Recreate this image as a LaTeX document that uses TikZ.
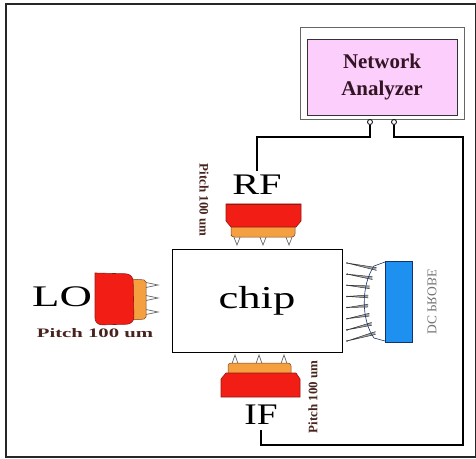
\documentclass[tikz,border=0pt]{standalone}
\usepackage{fontspec}
\setmainfont{Liberation Serif}
\usepackage{graphicx}
\definecolor{napink}{RGB}{252,206,252}
\definecolor{probered}{RGB}{242,30,22}
\definecolor{probedark}{RGB}{150,22,16}
\definecolor{probeorange}{RGB}{244,160,64}
\definecolor{orangeedge}{RGB}{120,70,30}
\definecolor{pitchbrown}{RGB}{72,36,30}
\definecolor{dcblue}{RGB}{30,144,240}
\definecolor{dcedge}{RGB}{20,50,110}
\begin{document}
\begin{tikzpicture}[x=1bp,y=-1bp,
  frame/.style={line width=2bp, black!85},
  wire/.style={line width=1.4bp, black},
  port/.style={circle, draw, fill=white, inner sep=0pt, minimum size=5bp, line width=0.8bp},
  biglabel/.style={font=\fontsize{30}{30}\selectfont, inner sep=0pt},
  pitchtext/.style={font=\fontsize{13}{13}\selectfont\bfseries, text=pitchbrown, inner sep=0pt},
  redbody/.style={fill=probered, draw=probedark, line width=0.6bp},
  orangebody/.style={fill=probeorange, draw=orangeedge, line width=0.5bp},
  probetip/.style={draw=black!60, fill=white, line width=0.7bp},
  needle/.style={draw=black!80, fill=black!35, line width=0.5bp}]
\useasboundingbox (0,0) rectangle (476,459);

% outer frame
\draw[frame] (6,4) rectangle (476,457);

% network analyzer
\node[draw=black!60, line width=0.7bp, minimum width=164bp, minimum height=92bp, inner sep=0pt] (na) at (382,73) {};
\node[draw=black!80, fill=napink, line width=0.8bp, minimum width=150bp, minimum height=76bp,
      inner sep=0pt, align=center, font=\fontsize{21}{27}\selectfont\bfseries, text={rgb,255:red,50;green,20;blue,35}]
      (screen) at (382,77) {Network\\Analyzer};
\node[port] (p1) at (370,122) {};
\node[port] (p2) at (394,122) {};

% chip
\node[draw, line width=0.8bp, minimum width=170bp, minimum height=103bp, inner sep=0pt,
      font=\fontsize{32}{32}\selectfont] (chip) at (257,300.5) {\scalebox{1.4}[1]{chip}};

% labels
\node[biglabel] (rf) at (257,185) {\scalebox{1.35}[1]{RF}};
\node[biglabel] (lo) at (62,297) {\scalebox{1.5}[1]{LO}};
\node[biglabel] (if) at (261,415) {\scalebox{1.25}[1]{IF}};
\node[pitchtext, rotate=-90] (rfpitch) at (204,200) {Pitch 100 um};
\node[pitchtext, rotate=90] (ifpitch) at (313,397) {Pitch 100 um};
\node[pitchtext] (lopitch) at (95,333) {\scalebox{1.6}[1]{Pitch 100 um}};
\node[font=\fontsize{13.5}{13.5}\selectfont, text=black!55, inner sep=0pt, rotate=90, yscale=-1] (dctext) at (432,302) {DC PROBE};

% connectors
\coordinate (ifbend) at (463,445);
\draw[wire, shorten >=4bp] (p1.south) -- ++(0,12) -| (rf.north);
\draw[wire, shorten >=5bp] (p2.south) -- ++(0,12) -| (ifbend) -| (if.south);

% RF probe (pointing down)
\foreach \x in {237,263,289}
  \draw[probetip] (\x-3.5,236) -- (\x,245) -- (\x+3.5,236);
\draw[orangebody] (231,226) -- (295,226) -- (295,233) [rounded corners=3bp] -- (295,237) -- (231,237) -- (231,233) [sharp corners] -- cycle;
\draw[redbody] (226,204) -- (301,204) -- (301,221) -- (296,227) -- (231,227) -- (226,221) -- cycle;
\draw[line width=1bp, probedark] (226,204.5) -- (301,204.5);

% IF probe (pointing up)
\foreach \x in {235,259,284}
  \draw[probetip] (\x-3.5,365) -- (\x,355) -- (\x+3.5,365);
\draw[orangebody] (228,375) -- (228,366) [rounded corners=3bp] -- (228,363) -- (291,363) [sharp corners] -- (291,375) -- cycle;
\draw[redbody] (226,373) -- (296,373) -- (300,379) -- (300,397) -- (221,397) -- (221,379) -- cycle;

% LO probe (pointing right)
\foreach \y in {285,298,312}
  \draw[probetip] (146,\y-2.5) -- (158,\y) -- (146,\y+2.5);
\draw[orangebody, rounded corners=2bp] (130,279) -- (146,280) -- (146,319) -- (130,320) -- cycle;
\draw[redbody, rounded corners=7bp] (95,273) -- (133,274) -- (134,324) -- (95,325) [sharp corners] -- cycle;

% DC probe
\foreach \i in {0,...,7}{
  \pgfmathsetmacro\ya{269+\i*64/7}
  \pgfmathsetmacro\xa{365+9*((\ya-302)/34)^2}
  \pgfmathsetmacro\yt{263+\i*78/7}
  \draw[needle] (\xa+3,\ya-1.4) -- (347,\yt) -- (\xa+3,\ya+1.4);
  \fill[black!80] (347,\yt) circle (0.9bp);
}
\draw[dcedge, line width=0.6bp] (385,262) -- (374,266) .. controls (361,285) and (361,320) .. (374,338) -- (385,341);
\node[draw=dcedge, fill=dcblue, line width=1bp, minimum width=27bp, minimum height=81bp, inner sep=0pt] (dcbody) at (398.5,301.5) {};
\end{tikzpicture}
\end{document}
